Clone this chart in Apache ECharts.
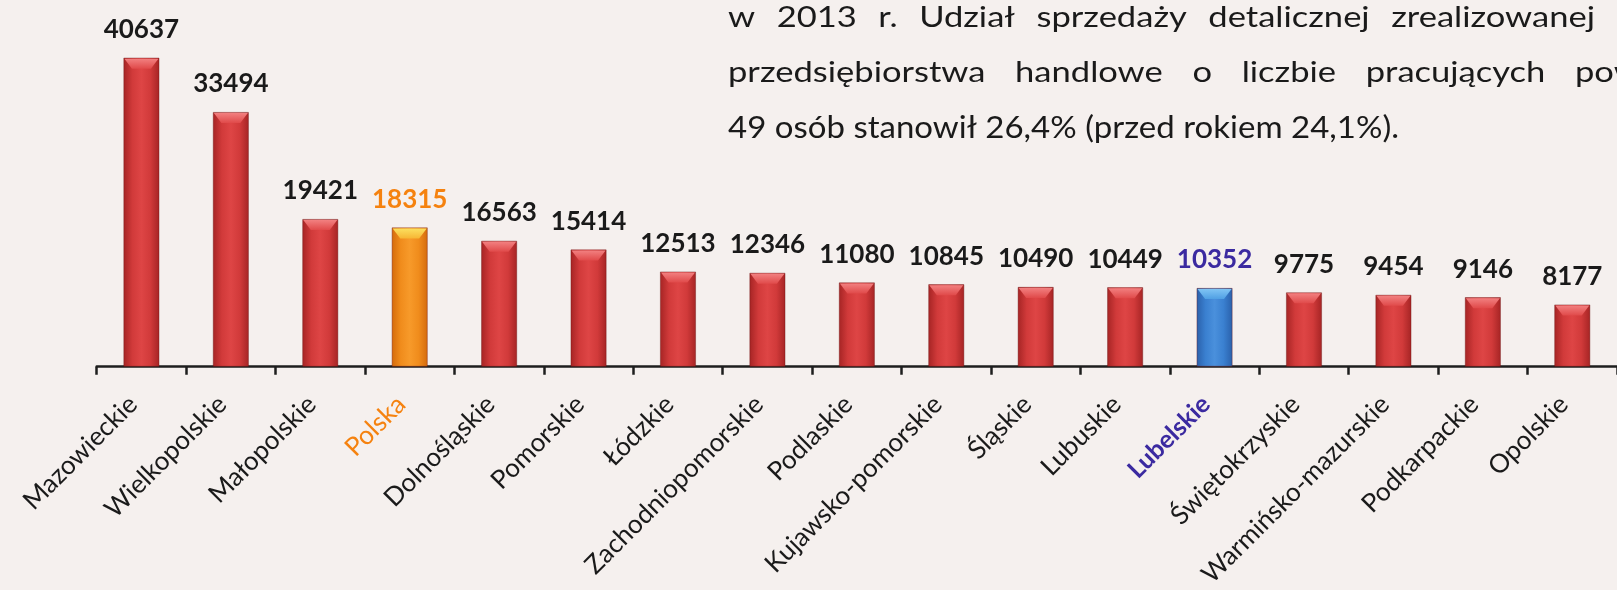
<!DOCTYPE html>
<html><head><meta charset="utf-8">
<script src="https://cdn.jsdelivr.net/npm/echarts@6/dist/echarts.min.js"></script>
<style>html,body{margin:0;padding:0;background:#f5f0ee;} #c{width:1617px;height:590px;}</style>
</head><body><div id="c"></div>
<script>
// ---- data ----
const categories = ['Mazowieckie','Wielkopolskie','Małopolskie','Polska','Dolnośląskie','Pomorskie','Łódzkie','Zachodniopomorskie','Podlaskie','Kujawsko-pomorskie','Śląskie','Lubuskie','Lubelskie','Świętokrzyskie','Warmińsko-mazurskie','Podkarpackie','Opolskie'];
const values = [40637,33494,19421,18315,16563,15414,12513,12346,11080,10845,10490,10449,10352,9775,9454,9146,8177];
const textLine1 = ['w','2013','r.','Udział','sprzedaży','detalicznej','zrealizowanej'];
const textLine2 = ['przedsiębiorstwa','handlowe','o','liczbie','pracujących','powyżej'];
const textLine3 = '49 osób stanowił 26,4% (przed rokiem 24,1%).';

// ---- styles ----
const themes = {
  red:    {body:['#a52424','#d13a3a','#de4545','#d13a3a','#a52424'], bevel:['#f28080','#e04a4a'], label:'#1a1a1a'},
  orange: {body:['#d46a0c','#f08c1c','#f79a2a','#f08c1c','#d46a0c'], bevel:['#fbe060','#f7b634'], label:'#f5820f'},
  blue:   {body:['#2a60aa','#3a80d0','#4a90dc','#3a80d0','#2a60aa'], bevel:['#80c4f4','#50a0e4'], label:'#3b2aa0'}
};
const highlight = {'Polska':'orange','Lubelskie':'blue'};
const themeOf = c => themes[highlight[c] || 'red'];
const hGrad = cols => new echarts.graphic.LinearGradient(0,0,1,0, cols.map((c,i)=>({offset:i/(cols.length-1), color:c})));
const vGrad = cols => new echarts.graphic.LinearGradient(0,0,0,1, cols.map((c,i)=>({offset:i/(cols.length-1), color:c})));

const barData = values.map((v,i)=>{
  const t = themeOf(categories[i]);
  return {value:v, itemStyle:{color:hGrad(t.body), borderColor:'rgba(110,20,20,0.5)', borderWidth:0.8},
          label:{color:t.label}};
});
const bevelData = values.map((v,i)=>{
  const t = themeOf(categories[i]);
  return {value:v, itemStyle:{color:vGrad(t.bevel)}};
});

// ---- paragraph layout ----
const PFONT = '29px Lato';
const PFONT3 = '31px Lato';
const ctx = document.createElement('canvas').getContext('2d');
const measure = (w,f) => { ctx.font = f; return ctx.measureText(w).width; };
const X0 = 728, L1END = 1595, GAP = 21.5, L2LAST = 1575;
const sum1 = textLine1.reduce((a,w)=>a+measure(w,PFONT),0);
const sx = (L1END - X0 - GAP*(textLine1.length-1)) / sum1;
function place(words, lastStart){
  const n = words.length;
  const ws = words.map(w=>measure(w,PFONT)*sx);
  const inner = ws.slice(0,n-1).reduce((a,b)=>a+b,0);
  const gap = (lastStart - X0 - inner)/(n-1);
  const xs=[]; let x=X0;
  ws.forEach(w=>{xs.push(x); x+=w+gap;});
  return xs;
}
const graphics = [];
const l1x = place(textLine1, L1END - measure(textLine1[textLine1.length-1],PFONT)*sx);
textLine1.forEach((w,i)=>graphics.push({type:'text', x:l1x[i], y:18, scaleX:sx, style:{text:w, font:PFONT, fill:'#1a1a1a', verticalAlign:'middle'}}));
const l2x = place(textLine2, L2LAST);
textLine2.forEach((w,i)=>graphics.push({type:'text', x:l2x[i], y:73, scaleX:sx, style:{text:w, font:PFONT, fill:'#1a1a1a', verticalAlign:'middle'}}));
graphics.push({type:'text', x:X0, y:128, scaleX:671/measure(textLine3,PFONT3), style:{text:textLine3, font:PFONT3, fill:'#1a1a1a', verticalAlign:'middle'}});

const chart = echarts.init(document.getElementById('c'), null, {renderer:'canvas'});
chart.setOption({
  backgroundColor:'#f5f0ee',
  animation:false,
  graphic: graphics,
  grid:{left:96.7, width:1532, top:24.5, bottom:223, containLabel:false},
  xAxis:{
    type:'category', data:categories,
    axisLine:{lineStyle:{color:'#1e1e1e', width:2.5}},
    axisTick:{show:true, length:8, lineStyle:{color:'#1e1e1e', width:2.5}},
    axisLabel:{
      interval:0, rotate:45, margin:25, padding:[0,12,0,0],
      fontFamily:'Lato', fontSize:26, color:'#1a1a1a',
      formatter:(v)=> highlight[v]==='orange' ? '{p|'+v+'}' : highlight[v]==='blue' ? '{l|'+v+'}' : v,
      rich:{
        p:{color:'#f5820f', fontFamily:'Lato', fontSize:26},
        l:{color:'#3b2aa0', fontFamily:'Lato', fontSize:25, fontWeight:'bold'}
      }
    }
  },
  yAxis:{type:'value', min:0, max:45000, show:false, splitLine:{show:false}},
  series:[
    {type:'bar', data:barData, barWidth:36, z:2,
     label:{show:true, position:'top', distance:15, fontFamily:'Lato', fontWeight:'bold', fontSize:26}},
    {type:'pictorialBar', data:bevelData, symbol:'path://M0,0L36,0L28,10L8,10Z', symbolSize:[34,10],
     symbolPosition:'end', symbolOffset:[0,1], z:3, silent:true}
  ]
});
</script></body></html>
